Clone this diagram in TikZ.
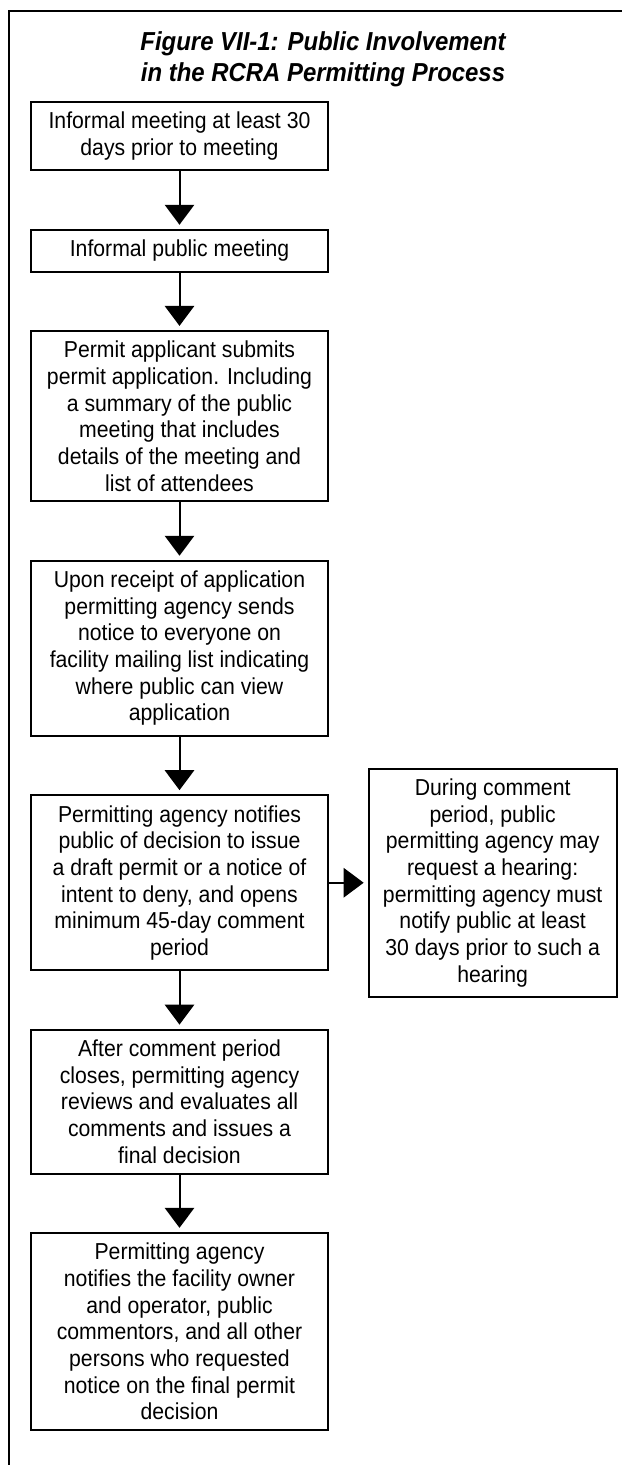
\documentclass[tikz,border=0pt]{standalone}
\usepackage{fontspec}
\setmainfont[FakeStretch=0.92]{Liberation Sans}
\usetikzlibrary{arrows.meta,positioning}

\begin{document}
\begin{tikzpicture}[x=0.75pt,y=-0.75pt,>={Triangle[width=22pt,length=15pt]},
  stepbox/.style={draw,line width=1.5pt,align=center,minimum width=222.75pt,
    inner xsep=6pt,inner ysep=7.6pt,font=\fontsize{17.3}{20}\selectfont},
  flow/.style={->,line width=1.5pt,shorten >=3pt}]
  \useasboundingbox (0,0) rectangle (622,1465);
  % outer frame, it runs off the page at right and bottom
  \draw[line width=2.2pt] (9,1465) |- (622,11);
  \node[font=\fontsize{19.5}{23}\selectfont\bfseries\itshape,align=center] (title) at (323,59)
    {Figure VII-1: Public Involvement\\in the RCRA Permitting Process};
  \node[stepbox,anchor=north west] (meet30) at (30,101)
    {Informal meeting at least 30\\days prior to meeting};
  \node[stepbox,below=43pt of meet30] (meetpub) {Informal public meeting};
  \node[stepbox,below=43pt of meetpub] (submit)
    {Permit applicant submits\\permit application. Including\\a summary of the public\\meeting that includes\\details of the meeting and\\list of attendees};
  \node[stepbox,below=43pt of submit] (notice)
    {Upon receipt of application\\permitting agency sends\\notice to everyone on\\facility mailing list indicating\\where public can view\\application};
  \node[stepbox,below=43pt of notice] (draft)
    {Permitting agency notifies\\public of decision to issue\\a draft permit or a notice of\\intent to deny, and opens\\minimum 45-day comment\\period};
  \node[stepbox,minimum width=186pt,right=29pt of draft] (hearing)
    {During comment\\period, public\\permitting agency may\\request a hearing:\\permitting agency must\\notify public at least\\30 days prior to such a\\hearing};
  \node[stepbox,below=43pt of draft] (review)
    {After comment period\\closes, permitting agency\\reviews and evaluates all\\comments and issues a\\final decision};
  \node[stepbox,below=43pt of review] (final)
    {Permitting agency\\notifies the facility owner\\and operator, public\\commentors, and all other\\persons who requested\\notice on the final permit\\decision};
  % arrows
  \draw[flow] (meet30) -- (meetpub);
  \draw[flow] (meetpub) -- (submit);
  \draw[flow] (submit) -- (notice);
  \draw[flow] (notice) -- (draft);
  \draw[flow] (draft) -- (hearing);
  \draw[flow] (draft) -- (review);
  \draw[flow] (review) -- (final);
\end{tikzpicture}
\end{document}
